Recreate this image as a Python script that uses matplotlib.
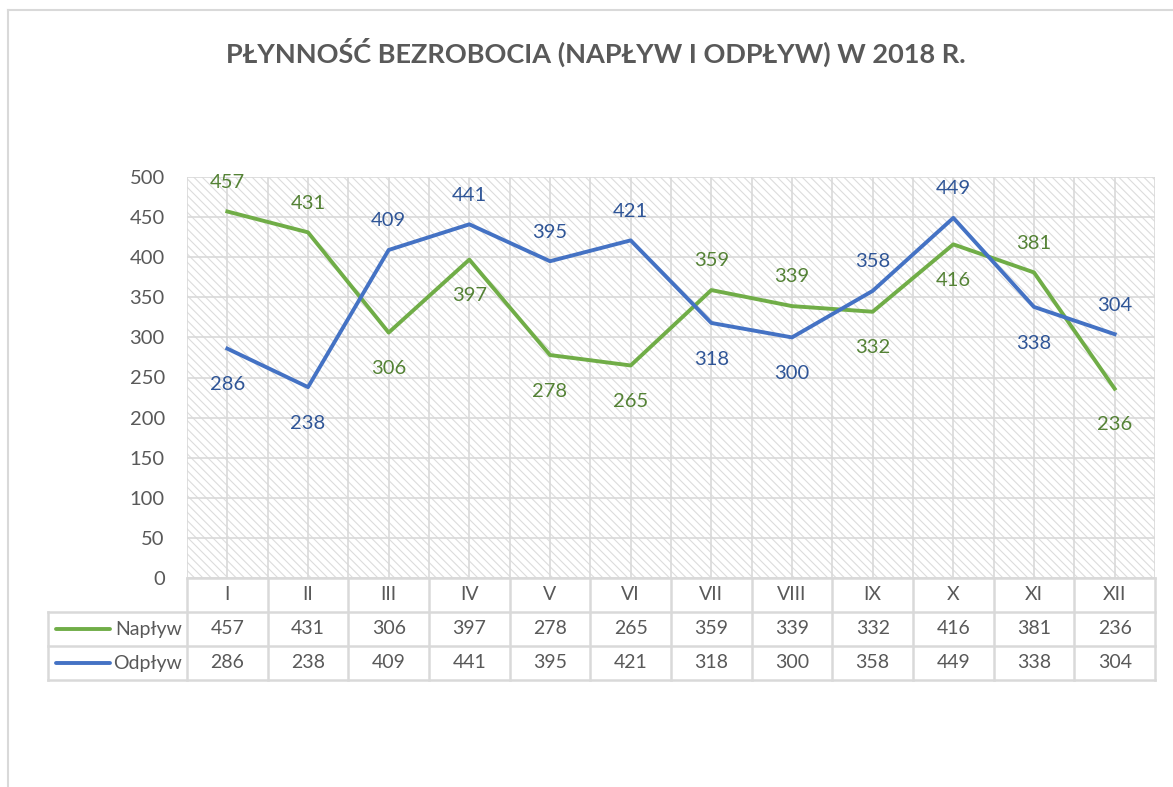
import numpy as np
import matplotlib
matplotlib.use('Agg')
import matplotlib.pyplot as plt
from matplotlib.patches import Rectangle
from matplotlib.lines import Line2D

plt.rcParams['font.family'] = ['Lato', 'DejaVu Sans']
plt.rcParams['hatch.linewidth'] = 0.8

# dane
miesiace = ['I', 'II', 'III', 'IV', 'V', 'VI', 'VII', 'VIII', 'IX', 'X', 'XI', 'XII']
naplyw = [457, 431, 306, 397, 278, 265, 359, 339, 332, 416, 381, 236]
odplyw = [286, 238, 409, 441, 395, 421, 318, 300, 358, 449, 338, 304]
# polozenie etykiet danych: 1 = nad punktem, -1 = pod punktem
poz_naplyw = [1, 1, -1, -1, -1, -1, 1, 1, -1, -1, 1, -1]
poz_odplyw = [-1, -1, 1, 1, 1, 1, -1, -1, 1, 1, -1, 1]

zielony = '#70AD47'
niebieski = '#4472C4'
zielony_txt = '#548235'
niebieski_txt = '#2F5597'
szary = '#595959'
siatka = '#D9D9D9'
fs = 14.5


def przesuniecie(p):
    # etykieta nad punktem troche blizej, pod punktem troche dalej
    return 21 if p > 0 else -26


W, H = 1173, 787
fig = plt.figure(figsize=(W / 100, H / 100), dpi=100)

# ramka wykresu
fig.add_artist(Line2D([8 / W, 8 / W], [0, 1 - 10 / H], color=siatka, lw=1.5))
fig.add_artist(Line2D([8 / W, 1], [1 - 10 / H, 1 - 10 / H], color=siatka, lw=1.5))

fig.text(596 / W, 1 - 52 / H, 'PŁYNNOŚĆ BEZROBOCIA (NAPŁYW I ODPŁYW) W 2018 R.',
         ha='center', va='center', fontsize=19.5, fontweight='bold', color=szary)

# glowny wykres
x0, x1, ytop, ybot = 187, 1155, 177, 578
ax = fig.add_axes([x0 / W, 1 - ybot / H, (x1 - x0) / W, (ybot - ytop) / H])
x = np.arange(len(miesiace))
ax.set_xlim(-0.5, len(miesiace) - 0.5)
ax.set_ylim(0, 500)
ax.add_patch(Rectangle((0, 0), 1, 1, transform=ax.transAxes, facecolor='white',
                       edgecolor='#DCDCDC', hatch='\\\\\\\\', lw=0, zorder=0.1))
ax.set_xticks(np.arange(-0.5, len(miesiace), 0.5))
ax.set_xticklabels([])
ax.set_yticks(np.arange(0, 501, 50))
ax.tick_params(length=0, labelsize=fs, labelcolor=szary, pad=16)
ax.set_axisbelow(True)
ax.grid(True, color=siatka, lw=1.2, zorder=0.5)
for s in ax.spines.values():
    s.set_visible(False)

ax.plot(x, naplyw, color=zielony, lw=2.8, solid_joinstyle='round', zorder=3)
ax.plot(x, odplyw, color=niebieski, lw=2.8, solid_joinstyle='round', zorder=3)

for xi, v, p in zip(x, naplyw, poz_naplyw):
    ax.annotate(str(v), (xi, v), xytext=(0, przesuniecie(p)), textcoords='offset points',
                ha='center', va='center', fontsize=fs, color=zielony_txt)
for xi, v, p in zip(x, odplyw, poz_odplyw):
    ax.annotate(str(v), (xi, v), xytext=(0, przesuniecie(p)), textcoords='offset points',
                ha='center', va='center', fontsize=fs, color=niebieski_txt)

# tabela danych
tx0, tbot = 48, 680
ax_t = fig.add_axes([tx0 / W, 1 - tbot / H, (x1 - tx0) / W, (tbot - ybot) / H])
szer = (x1 - x0) / len(miesiace)
xl = -0.5 - (x0 - tx0) / szer
ax_t.set_xlim(xl, len(miesiace) - 0.5)
ax_t.set_ylim(0, 3)
ax_t.axis('off')

kw = dict(color=siatka, lw=1.8, clip_on=False)
ax_t.plot([-0.5, len(miesiace) - 0.5], [3, 3], **kw)
for yy in [2, 1, 0]:
    ax_t.plot([xl, len(miesiace) - 0.5], [yy, yy], **kw)
ax_t.plot([xl, xl], [0, 2], **kw)
for k in range(len(miesiace) + 1):
    ax_t.plot([k - 0.5, k - 0.5], [0, 3], **kw)

for i, m in enumerate(miesiace):
    ax_t.text(i, 2.5, m, ha='center', va='center', fontsize=fs - 0.5, color=szary)
    ax_t.text(i, 1.5, str(naplyw[i]), ha='center', va='center', fontsize=fs - 0.5, color=szary)
    ax_t.text(i, 0.5, str(odplyw[i]), ha='center', va='center', fontsize=fs - 0.5, color=szary)

for yy, nazwa, kol in [(1.5, 'Napływ', zielony), (0.5, 'Odpływ', niebieski)]:
    ax_t.plot([xl + 8 / szer, xl + 62 / szer], [yy, yy], color=kol, lw=2.8,
              solid_capstyle='round', clip_on=False)
    ax_t.text(-0.56, yy, nazwa, ha='right', va='center', fontsize=fs - 0.5, color=szary)

fig.savefig('out.png', dpi=100)
